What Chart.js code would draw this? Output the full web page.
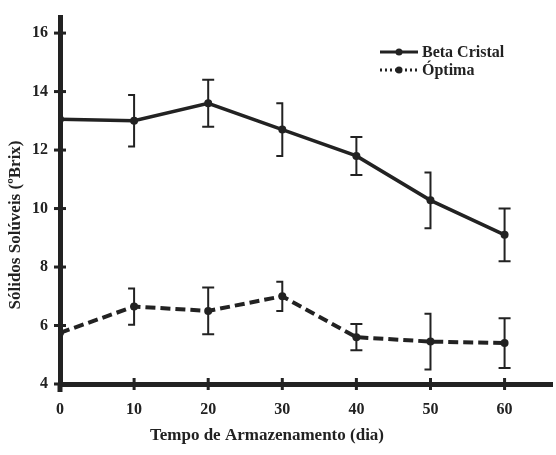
<!DOCTYPE html>
<html><head><meta charset="utf-8">
<script src="https://cdn.jsdelivr.net/npm/chart.js@4/dist/chart.umd.min.js"></script>
<style>html,body{margin:0;padding:0;background:#fff}#wrap{width:556px;height:455px}</style>
</head><body><div id="wrap"><canvas id="c"></canvas></div>
<script>
const days = [0, 10, 20, 30, 40, 50, 60];
const betaCristal = [13.05, 13.0, 13.6, 12.7, 11.8, 10.28, 9.1];
const betaErr = [0, 0.88, 0.8, 0.9, 0.65, 0.95, 0.9];
const optima = [5.75, 6.65, 6.5, 7.0, 5.6, 5.45, 5.4];
const optimaErr = [0, 0.62, 0.8, 0.5, 0.45, 0.95, 0.85];
const yTicks = [4, 6, 8, 10, 12, 14, 16];
const xTicks = [0, 10, 20, 30, 40, 50, 60];
const halfCapDays = [10, 30, 50];

const INK = '#222';
const FONT = '"Liberation Serif", "Times New Roman", serif';

const decor = {
  id: 'decor',
  afterDatasetsDraw(chart) {
    const ctx = chart.ctx, xs = chart.scales.x, ys = chart.scales.y;
    ctx.save();
    ctx.strokeStyle = INK; ctx.fillStyle = INK;
    // error bars
    const sets = [[betaCristal, betaErr], [optima, optimaErr]];
    ctx.lineWidth = 2;
    sets.forEach(([vals, errs]) => {
      vals.forEach((v, i) => {
        const e = errs[i]; if (!e) return;
        const x = xs.getPixelForValue(days[i]);
        const yt = ys.getPixelForValue(v + e), yb = ys.getPixelForValue(v - e);
        const half = halfCapDays.includes(days[i]);
        const l = x - 6, r = half ? x + 1 : x + 6;
        ctx.beginPath();
        ctx.moveTo(x, yt); ctx.lineTo(x, yb);
        ctx.moveTo(l, yt); ctx.lineTo(r, yt);
        ctx.moveTo(l, yb); ctx.lineTo(r, yb);
        ctx.stroke();
      });
    });
    // crossing tick marks
    ctx.lineWidth = 3;
    const ax = chart.chartArea.left, ay = chart.chartArea.bottom;
    yTicks.forEach(t => {
      const y = ys.getPixelForValue(t);
      ctx.beginPath(); ctx.moveTo(ax - 6, y); ctx.lineTo(ax + 6, y); ctx.stroke();
    });
    xTicks.forEach(t => {
      const x = xs.getPixelForValue(t);
      ctx.beginPath(); ctx.moveTo(x, ay - 6); ctx.lineTo(x, ay + 6); ctx.stroke();
    });
    // y axis slight extension below the x axis
    ctx.lineWidth = 5;
    ctx.beginPath(); ctx.moveTo(ax, ay); ctx.lineTo(ax, ay + 8); ctx.stroke();
    // legend
    const items = [['Beta Cristal', []], ['Óptima', [2, 3]]];
    items.forEach(([label, dash], k) => {
      const y = 52 + k * 18;
      ctx.lineWidth = 3;
      ctx.setLineDash(dash);
      ctx.beginPath(); ctx.moveTo(380, y); ctx.lineTo(418, y); ctx.stroke();
      ctx.setLineDash([]);
      ctx.beginPath(); ctx.arc(399, y, 3.5, 0, Math.PI * 2); ctx.fill();
      ctx.font = 'bold 16px ' + FONT;
      ctx.textAlign = 'left'; ctx.textBaseline = 'middle';
      ctx.fillText(label, 422, y + 1);
    });
    // axis titles
    ctx.font = 'bold 17px ' + FONT;
    ctx.textAlign = 'center'; ctx.textBaseline = 'middle';
    ctx.fillText('Tempo de Armazenamento (dia)', 267, 436);
    ctx.save();
    ctx.translate(16, 225);
    ctx.rotate(-Math.PI / 2);
    ctx.fillText('Sólidos Solúveis (ºBrix)', 0, 0);
    ctx.restore();
    ctx.restore();
  }
};

new Chart(document.getElementById('c'), {
  type: 'line',
  data: {
    datasets: [
      { label: 'Beta Cristal', data: days.map((d, i) => ({x: d, y: betaCristal[i]})),
        borderColor: INK, backgroundColor: INK, borderWidth: 3.5, pointRadius: 4, pointBorderWidth: 0, pointHoverRadius: 4, tension: 0 },
      { label: 'Óptima', data: days.map((d, i) => ({x: d, y: optima[i]})),
        borderColor: INK, backgroundColor: INK, borderWidth: 4, borderDash: [10, 5], pointRadius: 4, pointBorderWidth: 0, pointHoverRadius: 4, tension: 0 }
    ]
  },
  options: {
    responsive: true, maintainAspectRatio: false, animation: false,
    layout: { padding: { top: 17, right: 0, left: 0, bottom: 0 } },
    plugins: { legend: { display: false }, tooltip: { enabled: false } },
    scales: {
      x: {
        type: 'linear', min: 0, max: 66.4,
        grid: { display: false, drawTicks: false },
        border: { display: true, width: 5, color: INK },
        afterBuildTicks: s => { s.ticks = xTicks.map(v => ({value: v})); },
        afterFit: s => { s.height = 71; s.paddingLeft = 0; s.paddingRight = 0; },
        ticks: { padding: 16, color: INK, font: { family: FONT, weight: 'bold', size: 16 } }
      },
      y: {
        min: 4, max: 16.55,
        grid: { display: false, drawTicks: false },
        border: { display: true, width: 5, color: INK },
        afterBuildTicks: s => { s.ticks = yTicks.map(v => ({value: v})); },
        afterFit: s => { s.width = 60; s.paddingTop = 0; s.paddingBottom = 0; },
        ticks: { padding: 12, color: INK, font: { family: FONT, weight: 'bold', size: 16 } }
      }
    }
  },
  plugins: [decor]
});
</script></body></html>
